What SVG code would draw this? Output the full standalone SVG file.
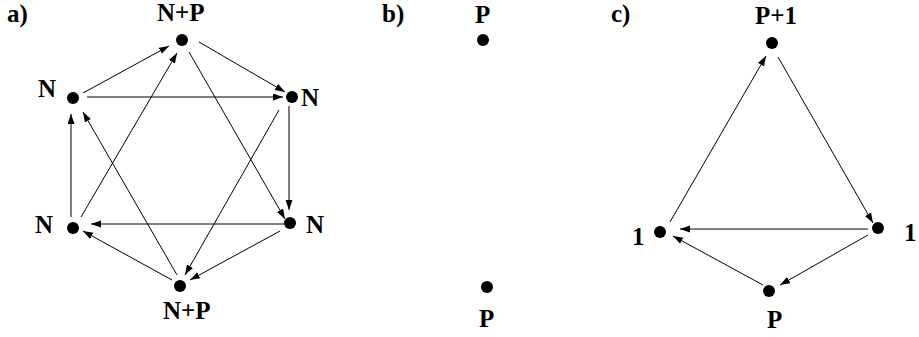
<svg xmlns="http://www.w3.org/2000/svg" width="919" height="337" viewBox="0 0 919 337">
<defs>
<marker id="ah" markerUnits="userSpaceOnUse" markerWidth="11" markerHeight="8" refX="10" refY="3.5" orient="auto">
<path d="M0,0 L10,3.5 L0,7 z" fill="#000"/>
</marker>
</defs>
<style>
.lbl{font-family:"Liberation Serif","Times New Roman",serif;font-weight:bold;font-size:25px;fill:#000}
.dot{fill:#000}
.e{stroke:#000;stroke-width:1;fill:none;marker-end:url(#ah)}
</style>
<rect width="919" height="337" fill="#fff"/>
<text class="lbl" x="7" y="22">a)</text>
<text class="lbl" x="382" y="22">b)</text>
<text class="lbl" x="611" y="22">c)</text>
<g id="connectors">
<line class="e" x1="83" y1="93" x2="169" y2="46"/>
<line class="e" x1="199" y1="42" x2="285" y2="92"/>
<line class="e" x1="87" y1="97" x2="283" y2="97"/>
<line class="e" x1="81" y1="217" x2="177" y2="53"/>
<line class="e" x1="189" y1="52" x2="285" y2="219"/>
<line class="e" x1="289" y1="106" x2="289" y2="210"/>
<line class="e" x1="279" y1="110" x2="185" y2="275"/>
<line class="e" x1="284" y1="224" x2="91" y2="224"/>
<line class="e" x1="280" y1="231" x2="190" y2="280"/>
<line class="e" x1="172" y1="280" x2="83" y2="231"/>
<line class="e" x1="177" y1="275" x2="83" y2="112"/>
<line class="e" x1="71" y1="217" x2="71" y2="114"/>
<line class="e" x1="670" y1="222" x2="766" y2="56"/>
<line class="e" x1="778" y1="57" x2="873" y2="223"/>
<line class="e" x1="868" y1="229" x2="680" y2="229"/>
<line class="e" x1="868" y1="235" x2="780" y2="285"/>
<line class="e" x1="763" y1="285" x2="673" y2="236"/>
</g>
<g id="a-top"><circle class="dot" cx="182" cy="40" r="6"/><text class="lbl" x="157" y="21">N+P</text></g>
<g id="a-left"><circle class="dot" cx="73" cy="98" r="6"/><text class="lbl" x="38" y="97">N</text></g>
<g id="a-right"><circle class="dot" cx="292" cy="97" r="6"/><text class="lbl" x="301" y="106">N</text></g>
<g id="a-bottomleft"><circle class="dot" cx="73" cy="228" r="6"/><text class="lbl" x="35" y="233">N</text></g>
<g id="a-bottomright"><circle class="dot" cx="290" cy="223" r="6"/><text class="lbl" x="306" y="233">N</text></g>
<g id="a-bottom"><circle class="dot" cx="180" cy="286" r="6"/><text class="lbl" x="163" y="319">N+P</text></g>
<g id="b-top"><circle class="dot" cx="483" cy="40" r="6"/><text class="lbl" x="475" y="23">P</text></g>
<g id="b-bottom"><circle class="dot" cx="487" cy="287" r="6"/><text class="lbl" x="479" y="327">P</text></g>
<g id="c-top"><circle class="dot" cx="772" cy="43" r="6"/><text class="lbl" x="755" y="24">P+1</text></g>
<g id="c-left"><circle class="dot" cx="660" cy="232" r="6"/><text class="lbl" x="632" y="245">1</text></g>
<g id="c-right"><circle class="dot" cx="878" cy="228" r="6"/><text class="lbl" x="904" y="241">1</text></g>
<g id="c-bottom"><circle class="dot" cx="769" cy="291" r="6"/><text class="lbl" x="767" y="328">P</text></g>
</svg>
